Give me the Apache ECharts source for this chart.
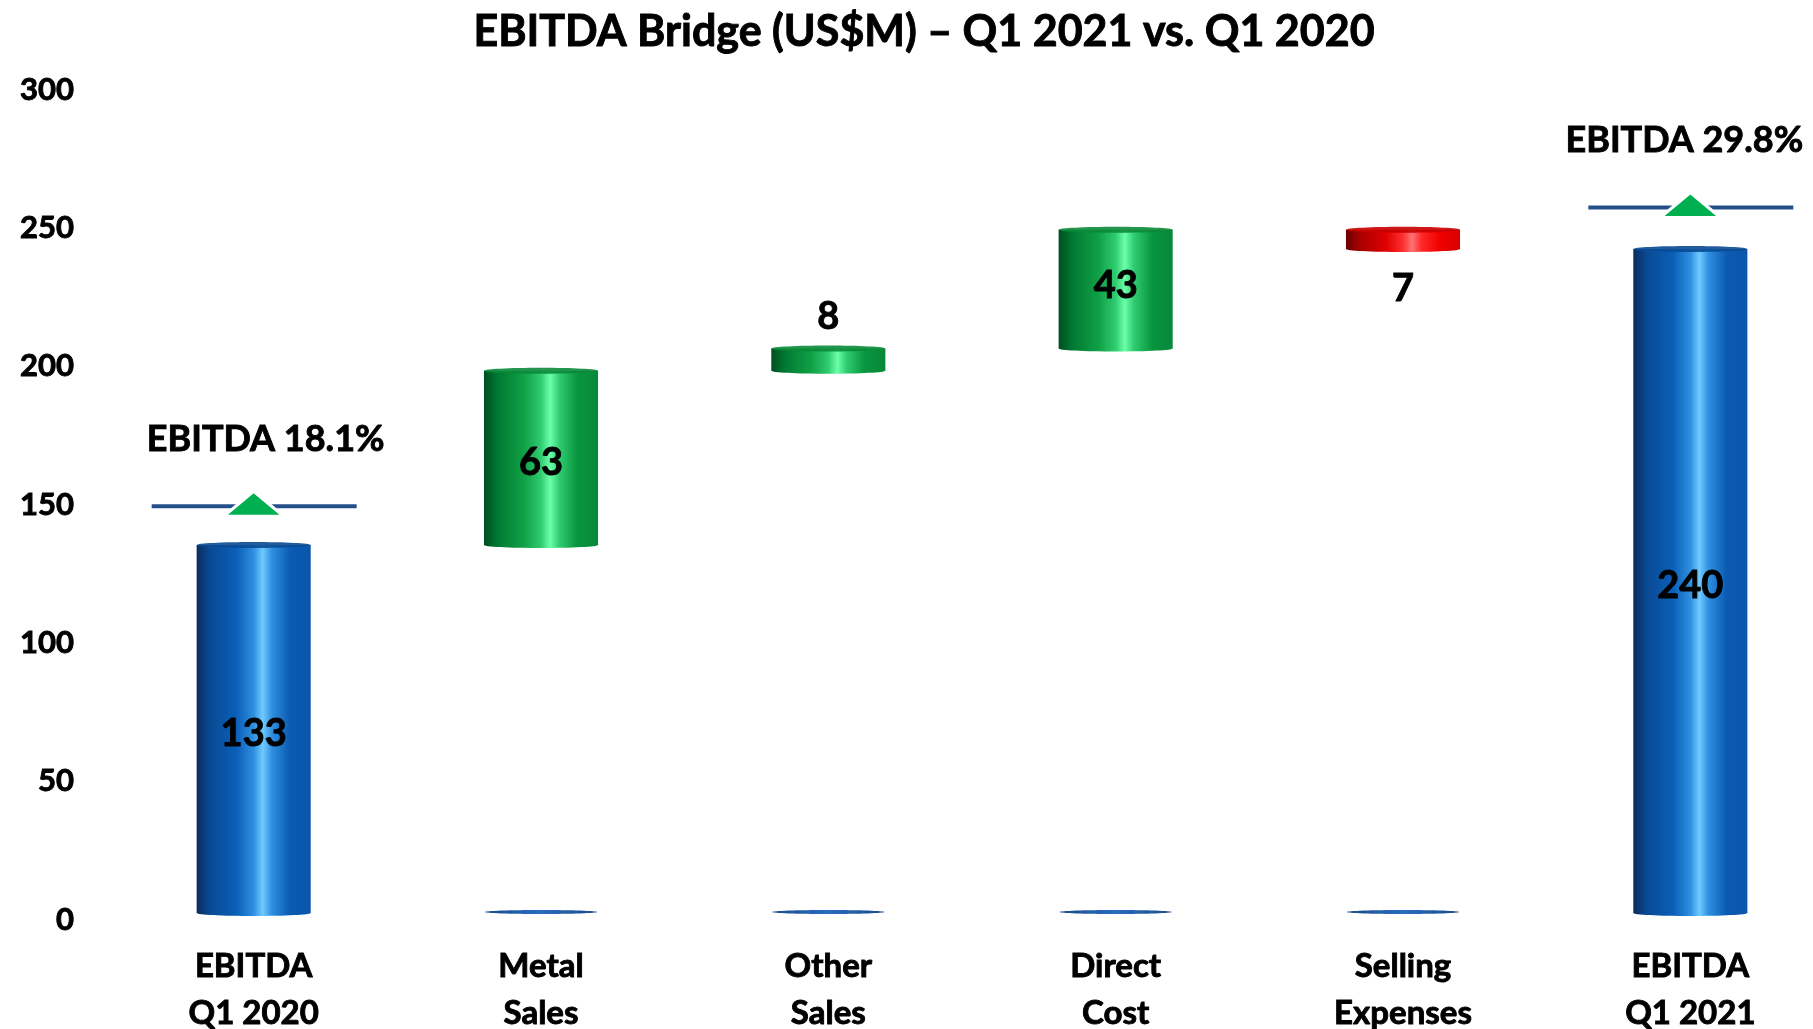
<!DOCTYPE html>
<html>
<head>
<meta charset="utf-8">
<title>EBITDA Bridge</title>
<script src="https://cdn.jsdelivr.net/npm/echarts@6/dist/echarts.min.js"></script>
<style>
  html, body { margin: 0; padding: 0; background: #ffffff; }
  #chart { width: 1813px; height: 1029px; }
</style>
</head>
<body>
<div id="chart"></div>
<script>
// Bridge steps (US$M): opening total, movements, closing total
const categories = ['EBITDA\nQ1 2020', 'Metal\nSales', 'Other\nSales', 'Direct\nCost', 'Selling\nExpenses', 'EBITDA\nQ1 2021'];
const stepValues = [133, 63, 8, 43, -7, 240];
const isTotal = [true, false, false, false, false, true];

// EBITDA margin markers over the two totals
const marginCategoryIndex = [0, 5];
const marginLevel = [147, 255];
const marginLabels = ['EBITDA 18.1%', 'EBITDA 29.8%'];

const yTicks = [0, 50, 100, 150, 200, 250, 300];

const FONT = 'Lato, "Open Sans", sans-serif';
const WEIGHT = 'bold';
// thin outline to give the bold face a heavier look (axis / title text)
const INK = { textBorderColor: '#000000', textBorderWidth: 0.9 };
// same outline for graphic text elements
const INK_EL = { stroke: '#000000', lineWidth: 0.9 };

// Build floating segments [index, low, high, kind, shown value] (kind: 0 total, 1 increase, 2 decrease)
const segments = [];
let running = 0;
stepValues.forEach(function (v, i) {
  if (isTotal[i]) {
    segments.push([i, 0, v, 0, v]);
    running = v;
  } else if (v >= 0) {
    segments.push([i, running, running + v, 1, v]);
    running += v;
  } else {
    segments.push([i, running + v, running, 2, -v]);
    running += v;
  }
});

function grad(stops) {
  return new echarts.graphic.LinearGradient(0, 0, 1, 0, stops.map(function (s) {
    return { offset: s[0], color: s[1] };
  }));
}

const palettes = {
  0: [[0, '#0a2c5e'], [0.12, '#0a4a94'], [0.35, '#0a5fb8'], [0.5, '#2f8fe0'], [0.58, '#6fcaff'], [0.66, '#2f8fe0'], [0.82, '#0a5ab2'], [1, '#0a56aa']],
  1: [[0, '#004d20'], [0.12, '#007a33'], [0.35, '#10a045'], [0.5, '#30cc70'], [0.58, '#6cffaa'], [0.66, '#30cc70'], [0.82, '#08953f'], [1, '#06893a']],
  2: [[0, '#6a0000'], [0.12, '#a80000'], [0.35, '#e00000'], [0.5, '#ff3030'], [0.58, '#ff7474'], [0.66, '#ff2a2a'], [0.82, '#f00000'], [1, '#d80000']]
};
const capColors = { 0: '#0a4a94', 1: '#0b8a3a', 2: '#c80000' };

function renderCylinder(params, api) {
  const idx = api.value(0);
  const lo = api.value(1);
  const hi = api.value(2);
  const kind = api.value(3);
  const label = api.value(4);
  const top = api.coord([idx, hi]);
  const bot = api.coord([idx, lo]);
  const base = api.coord([idx, 0]);
  const w = api.size([1, 0])[0] * 0.397;
  const x = top[0] - w / 2;
  const h = bot[1] - top[1];
  const ry = 3;
  const children = [];

  // bottom cap of the hidden floor for floating segments
  if (kind !== 0) {
    children.push({
      type: 'ellipse',
      shape: { cx: base[0], cy: base[1] - 1, rx: w / 2 - 1, ry: 2 },
      style: { fill: grad([[0, '#1a4a8a'], [0.5, '#2a6cc0'], [1, '#1a4a8a']]) }
    });
  }

  children.push({
    type: 'rect',
    shape: { x: x, y: top[1], width: w, height: h },
    style: { fill: grad(palettes[kind]) }
  });
  children.push({
    type: 'ellipse',
    shape: { cx: top[0], cy: bot[1], rx: w / 2, ry: ry },
    style: { fill: grad(palettes[kind]) }
  });
  children.push({
    type: 'ellipse',
    shape: { cx: top[0], cy: top[1], rx: w / 2, ry: ry },
    style: { fill: capColors[kind], opacity: 0.9 }
  });

  // value label: inside when tall enough, otherwise just outside the segment
  let ly;
  if (h > 60) {
    ly = (top[1] + bot[1]) / 2 + (h > 150 ? 5 : -3);
  } else if (kind === 2) {
    ly = bot[1] + 40;
  } else {
    ly = top[1] - 32;
  }
  children.push({
    type: 'text',
    style: Object.assign({
      x: top[0], y: ly, text: String(label),
      font: WEIGHT + ' 38px ' + FONT, fill: '#000000',
      align: 'center', verticalAlign: 'middle'
    }, INK_EL),
    z2: 10
  });
  return { type: 'group', children: children };
}

function renderMarker(params, api) {
  const p = api.coord([api.value(0), api.value(1)]);
  const text = marginLabels[params.dataIndex];
  // the closing label is pulled in so it stays inside the canvas
  const dx = params.dataIndex === 0 ? 12 : -6;
  return {
    type: 'group',
    children: [
      {
        type: 'line',
        shape: { x1: p[0] - 102, y1: p[1], x2: p[0] + 103, y2: p[1] },
        style: { stroke: '#234f8a', lineWidth: 4 }
      },
      {
        type: 'polygon',
        shape: { points: [[p[0], p[1] - 15], [p[0] - 30, p[1] + 10], [p[0] + 30, p[1] + 10]] },
        style: { fill: '#00b050', stroke: '#ffffff', lineWidth: 3, lineJoin: 'miter' }
      },
      {
        type: 'text',
        style: Object.assign({
          x: p[0] + dx, y: p[1] - 67, text: text,
          font: WEIGHT + ' 36px ' + FONT, fill: '#000000',
          align: 'center', verticalAlign: 'middle'
        }, INK_EL)
      }
    ]
  };
}

const chart = echarts.init(document.getElementById('chart'), null, { renderer: 'canvas' });
chart.setOption({
  backgroundColor: '#ffffff',
  animation: false,
  title: {
    text: 'EBITDA Bridge (US$M) \u2013 Q1 2021 vs. Q1 2020',
    left: 919,
    textAlign: 'center',
    top: 6,
    textStyle: Object.assign({ fontFamily: FONT, fontWeight: WEIGHT, fontSize: 43, color: '#000000' }, INK)
  },
  grid: { left: 110, top: 83, width: 1724, height: 830, containLabel: false, outerBoundsMode: 'none' },
  xAxis: {
    type: 'category',
    data: categories,
    axisLine: { show: false },
    axisTick: { show: false },
    axisLabel: Object.assign({
      margin: 30,
      fontFamily: FONT, fontWeight: WEIGHT, fontSize: 33, lineHeight: 47, color: '#000000'
    }, INK)
  },
  yAxis: {
    type: 'value',
    min: yTicks[0],
    max: yTicks[yTicks.length - 1],
    interval: yTicks[1] - yTicks[0],
    splitLine: { show: false },
    axisLine: { show: false },
    axisTick: { show: false },
    axisLabel: Object.assign({
      margin: 36,
      verticalAlign: 'top',
      lineHeight: 13,
      fontFamily: FONT, fontWeight: WEIGHT, fontSize: 31, color: '#000000'
    }, INK)
  },
  series: [
    {
      type: 'custom',
      renderItem: renderCylinder,
      encode: { x: 0, y: [1, 2] },
      data: segments
    },
    {
      type: 'custom',
      renderItem: renderMarker,
      encode: { x: 0, y: 1 },
      data: marginCategoryIndex.map(function (c, i) { return [c, marginLevel[i]]; }),
      z: 5
    }
  ]
});
</script>
</body>
</html>
